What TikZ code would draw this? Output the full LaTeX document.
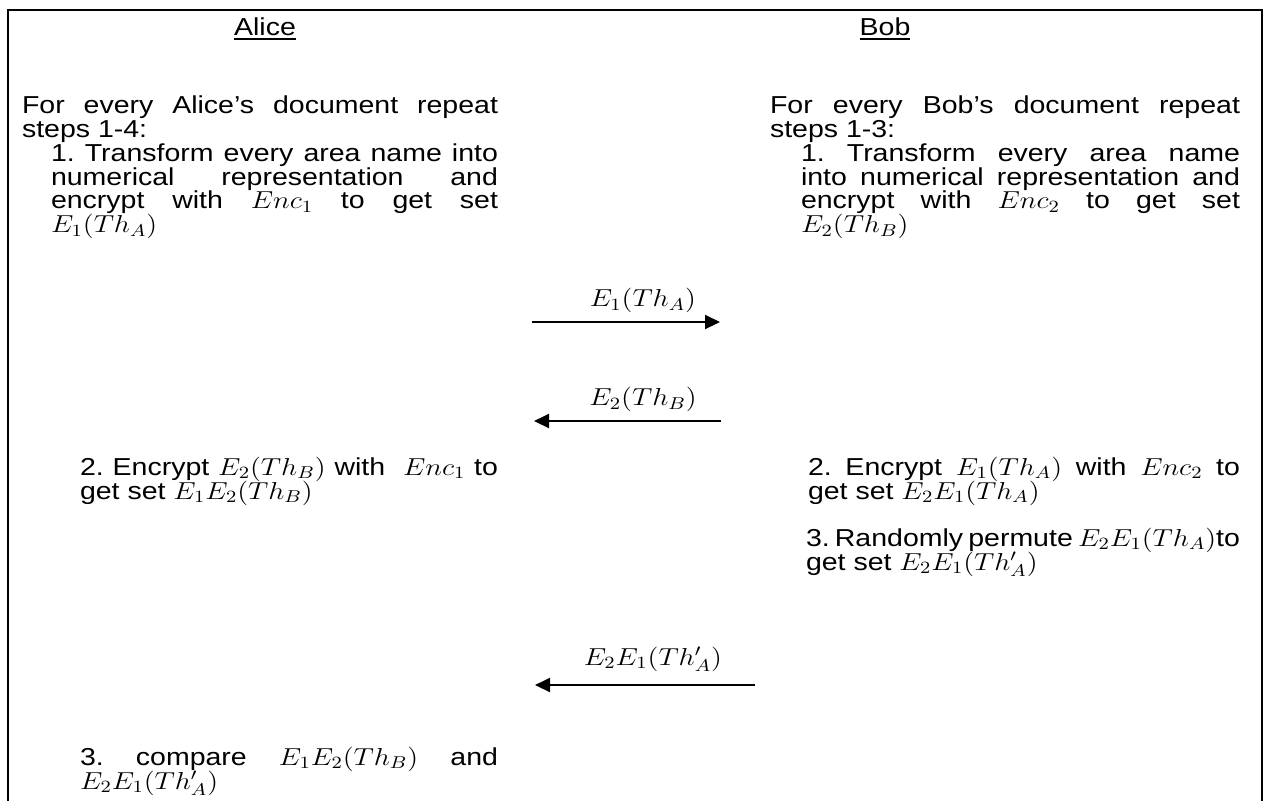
\RequirePackage{fix-cm}
\documentclass[tikz,border=0pt]{standalone}
\usepackage{fontspec}
\setmainfont{Liberation Sans}
\usetikzlibrary{arrows.meta}
\newcommand\myul[1]{\setbox0\hbox{#1}\rlap{\rule[-3pt]{\wd0}{1.2pt}}\box0}
\newcommand\bodyfont{\fontsize{14.25pt}{13.95pt}\selectfont\lineskiplimit=-100pt\lineskip=0pt\frenchspacing\spaceskip=.278em plus .2em minus .1em\hyphenpenalty=10000\exhyphenpenalty=10000\tolerance=10000}
\begin{document}
\begin{tikzpicture}[x=0.5pt,y=-0.5pt,
  txt/.style={anchor=base west, inner sep=0pt, outer sep=0pt, align=justify, font=\bodyfont, yscale=0.86},
  head/.style={anchor=base, inner sep=0pt, font=\bodyfont, yscale=0.86},
  lbl/.style={anchor=base, inner sep=0pt, font=\bodyfont, yscale=0.86, yshift=9pt},
  msg/.style={line width=1pt, -{Triangle[length=7.5pt,width=7pt]}},
  frame/.style={line width=1.25pt}]
\useasboundingbox (0,0) rectangle (1267,800);
\draw[frame] (8,805) -- (8,10) -- (1262,10) -- (1262,805);
\node[head] (alice) at (265,35) {\myul{Alice}};
\node[head] (bob) at (885,35) {\myul{Bob}};
\node[txt, text width=238pt] (aintro) at (22,113) {For every Alice’s document repeat\linebreak steps 1-4:};
\node[txt, text width=223.5pt] (a1) at (51,161) {1. Transform every area name into\linebreak numerical representation and\linebreak encrypt with $Enc_1$ to get set\linebreak $E_1(Th_A)$};
\node[txt, text width=209pt] (a2) at (80,475) {2. Encrypt $E_2(Th_B)$ with\ \ $Enc_1$ to\linebreak get set $E_1E_2(Th_B)$};
\node[txt, text width=209pt] (a3) at (80,765) {3. compare $E_1E_2(Th_B)$ and\linebreak $E_2E_1(Th'_A)$};
\node[txt, text width=235pt] (bintro) at (770,113) {For every Bob’s document repeat\linebreak steps 1-3:};
\node[txt, text width=219.5pt] (b1) at (801,161) {1. Transform every area name\linebreak into numerical representation and\linebreak encrypt with $Enc_2$ to get set\linebreak $E_2(Th_B)$};
\node[txt, text width=216pt] (b2) at (808,475) {2. Encrypt $E_1(Th_A)$ with $Enc_2$ to\linebreak get set $E_2E_1(Th_A)$};
\node[txt, text width=217pt] (b3) at (806,546) {3. Randomly permute $E_2E_1(Th_A)$to\linebreak get set $E_2E_1(Th'_A)$};
\coordinate (m1s) at (532,322); \coordinate (m1e) at (720,322);
\coordinate (m2s) at (721,421); \coordinate (m2e) at (534,421);
\coordinate (m3s) at (755,685); \coordinate (m3e) at (535,685);
\draw[msg] (m1s) -- node[lbl,pos=0.59] (l1) {$E_1(Th_A)$} (m1e);
\draw[msg] (m2s) -- node[lbl,pos=0.417] (l2) {$E_2(Th_B)$} (m2e);
\draw[msg] (m3s) -- node[lbl,pos=0.464,yshift=2.5pt] (l3) {$E_2E_1(Th'_A)$} (m3e);
\end{tikzpicture}
\end{document}
